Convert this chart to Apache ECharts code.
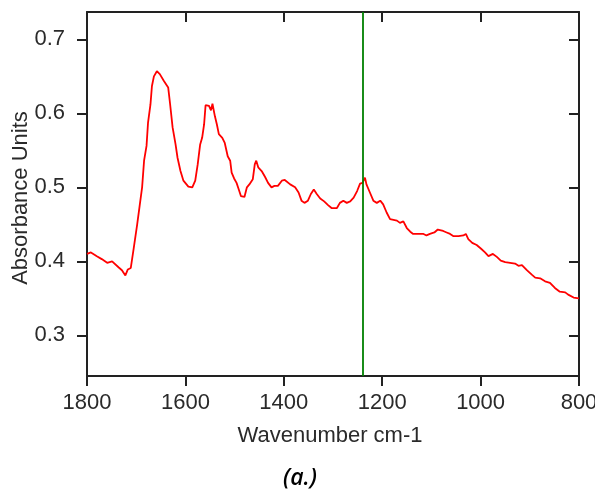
<!DOCTYPE html>
<html>
<head>
<meta charset="utf-8">
<script src="https://cdn.jsdelivr.net/npm/echarts@6/dist/echarts.min.js"></script>
<style>
  html, body { margin: 0; padding: 0; background: #fff; overflow: hidden; }
  #chart { width: 595px; height: 492px; }
</style>
</head>
<body>
<div id="chart"></div>
<script>
// IR absorbance spectrum, wavenumber in cm-1 (descending)
const wavenumbers = [
  1800, 1792, 1780, 1770, 1759, 1749, 1736, 1729, 1722, 1717, 1711, 1705, 1698, 1693, 1688, 1684,
  1679, 1676, 1671, 1668, 1664, 1658, 1652, 1644, 1635, 1631, 1626, 1620, 1616, 1610, 1604, 1594,
  1586, 1580, 1575, 1570, 1566, 1562, 1559, 1552, 1548, 1545, 1540, 1536, 1532, 1525, 1520, 1514,
  1509, 1506, 1501, 1496, 1492, 1487, 1480, 1475, 1470, 1463, 1459, 1456, 1452, 1445, 1438, 1432,
  1425, 1419, 1412, 1404, 1398, 1387, 1377, 1370, 1364, 1358, 1351, 1345, 1339, 1333, 1326, 1318,
  1310, 1303, 1292, 1286, 1279, 1272, 1265, 1258, 1251, 1245, 1240, 1235, 1232, 1225, 1218, 1211,
  1204, 1198, 1191, 1184, 1181, 1170, 1164, 1157, 1150, 1143, 1137, 1127, 1116, 1110, 1103, 1094,
  1087, 1083, 1076, 1069, 1062, 1055, 1045, 1035, 1030, 1025, 1017, 1008, 999, 991, 984, 975,
  967, 959, 950, 940, 930, 923, 916, 906, 896, 889, 879, 869, 859, 849, 839, 828,
  822, 811, 800
];
const absorbance = [
  0.410, 0.412, 0.407, 0.403, 0.398, 0.400, 0.392, 0.388, 0.381, 0.389, 0.391, 0.418, 0.450, 0.475, 0.500, 0.536,
  0.556, 0.587, 0.612, 0.637, 0.650, 0.657, 0.653, 0.644, 0.635, 0.612, 0.581, 0.558, 0.540, 0.522, 0.509, 0.501,
  0.500, 0.509, 0.531, 0.558, 0.567, 0.585, 0.611, 0.610, 0.604, 0.613, 0.596, 0.585, 0.572, 0.567, 0.560, 0.542,
  0.536, 0.520, 0.512, 0.506, 0.498, 0.488, 0.487, 0.500, 0.504, 0.511, 0.531, 0.536, 0.527, 0.522, 0.514, 0.506,
  0.500, 0.502, 0.502, 0.509, 0.510, 0.504, 0.500, 0.493, 0.482, 0.479, 0.482, 0.491, 0.497, 0.491, 0.485, 0.481,
  0.476, 0.472, 0.472, 0.479, 0.482, 0.479, 0.481, 0.486, 0.495, 0.505, 0.506, 0.513, 0.504, 0.493, 0.482, 0.479,
  0.482, 0.477, 0.466, 0.457, 0.457, 0.455, 0.452, 0.454, 0.445, 0.440, 0.437, 0.437, 0.437, 0.435, 0.437, 0.439,
  0.443, 0.445, 0.441, 0.439, 0.437, 0.434, 0.434, 0.435, 0.437, 0.430, 0.425, 0.422, 0.417, 0.412, 0.407, 0.410,
  0.406, 0.401, 0.399, 0.398, 0.397, 0.394, 0.395, 0.388, 0.382, 0.378, 0.377, 0.373, 0.371, 0.364, 0.359, 0.358,
  0.355, 0.351, 0.350
];
// Reference marker position (cm-1)
const markerWavenumber = [1240];

const xTicks = [1800, 1600, 1400, 1200, 1000, 800];
const yTicks = [0.3, 0.4, 0.5, 0.6, 0.7];

const axisColor = '#222';
const labelFont = { fontFamily: 'Liberation Sans', fontSize: 22, color: '#2a2a2a' };

const chart = echarts.init(document.getElementById('chart'), null, { renderer: 'canvas', width: 595, height: 492 });

const baseAxisLine = { show: true, lineStyle: { color: axisColor, width: 2 } };
const tickStyle = { color: axisColor, width: 2 };

chart.setOption({
  animation: false,
  backgroundColor: '#fff',
  grid: { left: 87, right: 16, top: 12, bottom: 116, containLabel: false, outerBoundsMode: 'none' },
  xAxis: [
    {
      type: 'value', position: 'bottom', inverse: true,
      min: 800, max: 1800, interval: 200,
      axisLine: baseAxisLine,
      axisTick: { show: true, inside: false, length: 10, lineStyle: tickStyle },
      axisLabel: Object.assign({
        margin: 16, customValues: xTicks,
        formatter: v => String(v)
      }, labelFont),
      splitLine: { show: false }
    },
    {
      type: 'value', position: 'top', inverse: true,
      min: 800, max: 1800, interval: 200,
      axisLine: baseAxisLine,
      axisTick: { show: true, inside: true, length: 10, lineStyle: tickStyle },
      axisLabel: { show: false },
      splitLine: { show: false }
    }
  ],
  yAxis: [
    {
      type: 'value', position: 'left',
      min: 0.245, max: 0.737,
      axisLine: baseAxisLine,
      axisTick: { show: true, inside: false, length: 10, lineStyle: tickStyle, customValues: yTicks },
      axisLabel: Object.assign({
        margin: 22, customValues: yTicks,
        formatter: v => v.toFixed(1)
      }, labelFont),
      splitLine: { show: false }
    },
    {
      type: 'value', position: 'right',
      min: 0.245, max: 0.737,
      axisLine: baseAxisLine,
      axisTick: { show: true, inside: true, length: 10, lineStyle: tickStyle, customValues: yTicks },
      axisLabel: { show: false },
      splitLine: { show: false }
    }
  ],
  series: [
    {
      type: 'line',
      xAxisIndex: 0, yAxisIndex: 0,
      data: wavenumbers.map((w, i) => [w, absorbance[i]]),
      showSymbol: false,
      lineStyle: { color: '#ff0000', width: 1.8 },
      itemStyle: { color: '#ff0000' },
      markLine: {
        silent: true,
        symbol: 'none',
        label: { show: false },
        lineStyle: { color: '#008000', width: 1.8, type: 'solid' },
        data: markerWavenumber.map(w => ({ xAxis: w }))
      }
    }
  ],
  graphic: [
    {
      type: 'text', x: 330, y: 436,
      style: { text: 'Wavenumber cm-1', fontFamily: 'Liberation Sans', fontSize: 22, fill: '#2a2a2a', align: 'center', verticalAlign: 'middle' }
    },
    {
      type: 'text', x: 21, y: 198, rotation: Math.PI / 2,
      style: { text: 'Absorbance Units', fontFamily: 'Liberation Sans', fontSize: 22, fill: '#2a2a2a', align: 'center', verticalAlign: 'middle' }
    },
    {
      type: 'text', x: 300, y: 478,
      style: { text: '(a.)', fontFamily: 'Open Sans', fontStyle: 'italic', fontWeight: 600, fontSize: 23, fill: '#000', align: 'center', verticalAlign: 'middle' }
    }
  ]
});
</script>
</body>
</html>
